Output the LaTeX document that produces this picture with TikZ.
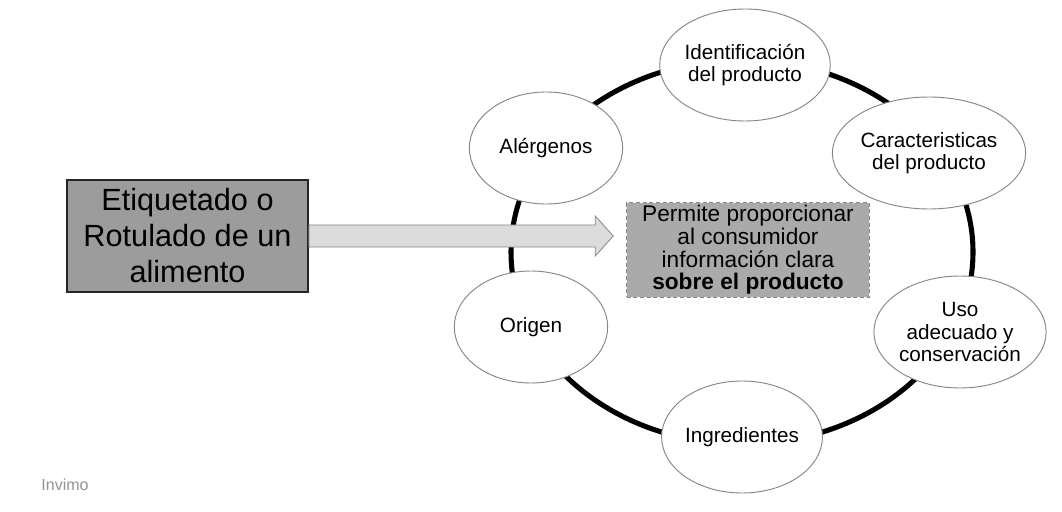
\documentclass[tikz,border=0pt]{standalone}
\usepackage{fontspec}
\setmainfont{Liberation Sans}
\usetikzlibrary{shapes.geometric}
\usetikzlibrary{calc}

\definecolor{boxgray}{RGB}{156,156,156}
\definecolor{infogray}{RGB}{170,170,170}
\definecolor{arrowgray}{RGB}{220,220,220}
\definecolor{edgegray}{RGB}{135,135,135}

\tikzset{
  topic/.style={ellipse, draw=edgegray, line width=.7pt, fill=white, minimum width=115pt, minimum height=84pt, inner sep=0pt, align=center, font=\fontsize{15.5}{17}\selectfont},
  titlebox/.style={draw=black!85, line width=1.2pt, fill=boxgray, minimum width=181pt, minimum height=84pt, align=center, font=\fontsize{23}{27}\selectfont},
  infobox/.style={draw=edgegray, densely dashed, line width=.6pt, fill=infogray, minimum width=182pt, minimum height=71pt, inner sep=1pt, align=center, font=\fontsize{17}{17}\selectfont},
  arrowbody/.style={fill=arrowgray, draw=edgegray, line width=.6pt}
}

\begin{document}
\begin{tikzpicture}[x=.75,y=.75]
\useasboundingbox (0,0) rectangle (1062,511);
\fill[white] (0,0) rectangle (1062,511);

\draw[black, line width=3.8pt] (742,259) ellipse [x radius=231, y radius=192]; % ring

\node[titlebox] (label) at (187.5,275) {Etiquetado o\\Rotulado de un\\alimento};
\node[infobox] (info) at (748,261) {Permite proporcionar\\al consumidor\\información clara\\\textbf{sobre el producto}};

\node[topic] (ident) at (745,446) {Identificación\\del producto};
\node[topic] (alerg) at (546,363) {Alérgenos};
\node[topic] (caract) at (929,358) {Caracteristicas\\del producto};
\node[topic] (orig) at (531,184) {Origen};
\node[topic] (uso) at (960,179) {Uso\\adecuado y\\conservación};
\node[topic] (ingr) at (742,74) {Ingredientes};

% block arrow
\coordinate (tip) at ($(label.east -| info.west)+(-13,0)$);
\filldraw[arrowbody] ($(label.east)+(0,11)$) -- ($(tip)+(-18,11)$) -- ($(tip)+(-18,20)$) -- (tip)
  -- ($(tip)+(-18,-20)$) -- ($(tip)+(-18,-11)$) -- ($(label.east)+(0,-11)$) -- cycle;

\node[gray!85, font=\fontsize{12}{14}\selectfont] (mark) at (65,26) {Invimo};
\end{tikzpicture}
\end{document}
